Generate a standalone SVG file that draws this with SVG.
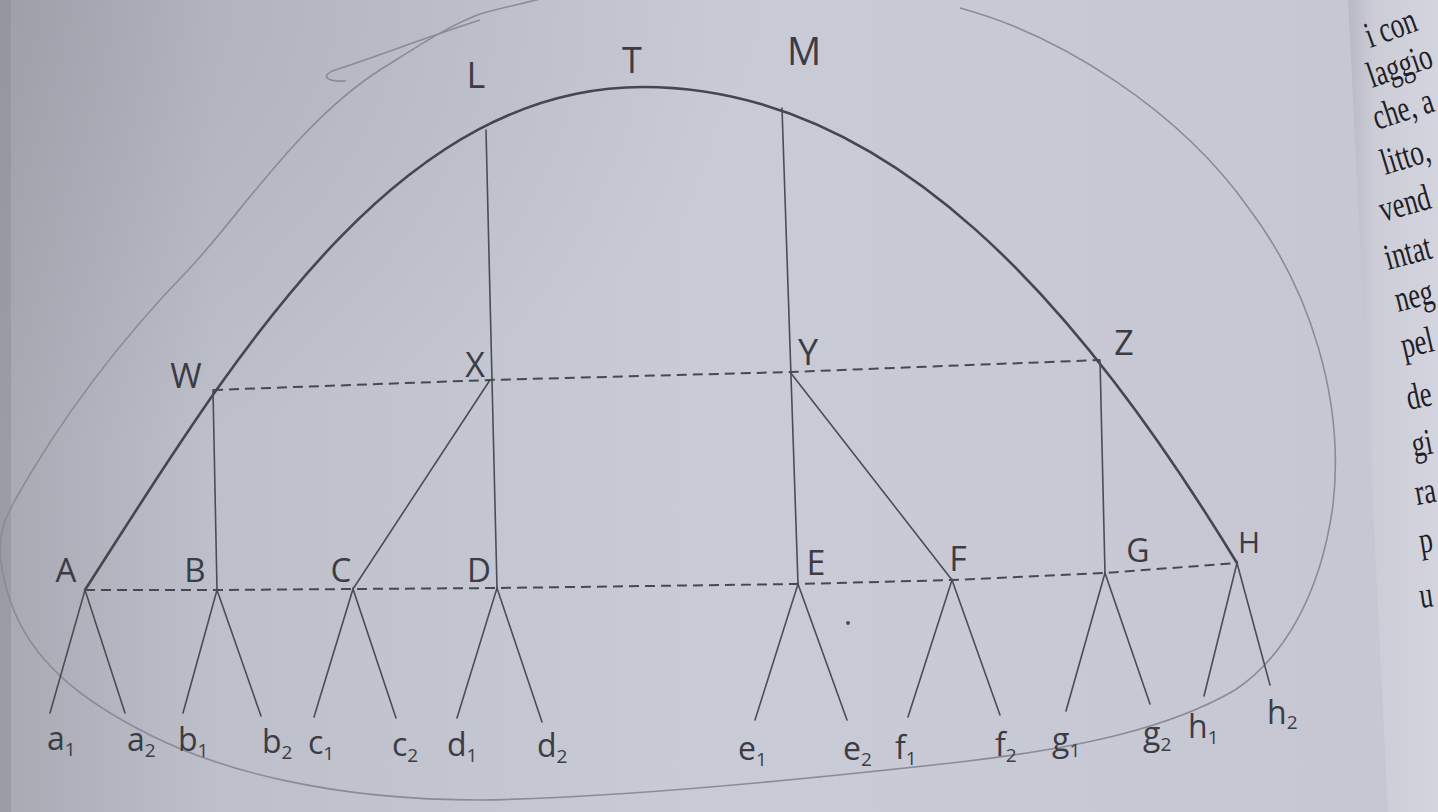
<svg xmlns="http://www.w3.org/2000/svg" width="1438" height="812" viewBox="0 0 1438 812">
<defs>
<linearGradient id="bg" x1="0" y1="0" x2="1" y2="0">
<stop offset="0" stop-color="#a8a9b3"/>
<stop offset="0.15" stop-color="#bdbfca"/>
<stop offset="0.5" stop-color="#c9cbd7"/>
<stop offset="0.93" stop-color="#c6c7d3"/>
<stop offset="1" stop-color="#c6c7d3"/>
</linearGradient>
<radialGradient id="shade" cx="0" cy="0" r="0.55">
<stop offset="0" stop-color="#7d7e88" stop-opacity="0.25"/>
<stop offset="1" stop-color="#7d7e88" stop-opacity="0"/>
</radialGradient>
<linearGradient id="gut" x1="0" y1="0" x2="1" y2="0">
<stop offset="0" stop-color="#b9b9c6"/>
<stop offset="0.3" stop-color="#cdcdd8"/>
<stop offset="1" stop-color="#d4d4de"/>
</linearGradient>
<style>
.curve{fill:none;stroke:#46464e;stroke-width:2.6;stroke-linecap:round}
.ln{fill:none;stroke:#4c4c54;stroke-width:1.6;stroke-linecap:round}
.dash{fill:none;stroke:#48484f;stroke-width:2;stroke-dasharray:10 6}
.outer{fill:none;stroke:#8a8b95;stroke-width:1.6}
.lab{font-family:"Open Sans","Liberation Sans",sans-serif;fill:#3c3c44;text-anchor:middle}
.leaf{font-family:"Open Sans","Liberation Sans",sans-serif;fill:#3c3c44;font-size:32px}
.sub{font-size:19px}
.pg{font-family:"Liberation Serif",serif;fill:#1f1f26;font-size:37px}
</style>
</defs>
<rect x="0" y="0" width="1438" height="812" fill="url(#bg)"/>
<rect x="0" y="0" width="1438" height="812" fill="url(#shade)"/>
<rect x="0" y="0" width="11" height="812" fill="#8d8e98" opacity="0.5"/>
<path d="M1348,0 Q1368,400 1388,812 L1438,812 L1438,0 Z" fill="url(#gut)"/>

<g id="outline">
<path class="outer" d="M960,8 C1060,35 1180,110 1250,210 C1310,290 1345,400 1333,505 C1320,600 1280,660 1235,690 C1170,728 1080,748 960,762 C800,780 620,798 480,800 C330,800 220,770 150,735 C80,700 30,660 10,600 C-10,540 5,520 15,500 C60,420 120,340 190,268 C240,215 300,120 383,68 C420,45 450,25 480,14 C500,8 530,2 560,-6"/>
<path class="outer" d="M480,20 C430,36 372,58 335,70 C321,75 324,82 346,81"/>
<circle cx="848" cy="623" r="2" fill="#4c4c54"/>
</g>

<g id="connectors">
<path id="tree-curve" class="curve" d="M85,590 C231,363 393,87 643,87 C893,87 1081,308 1237,563"/>
<path class="dash" d="M213,390 L490,380 L790,372 L1100,360"/>
<path class="dash" d="M85,590 L217,590 L353,589 L497,588 L798,584 L952,580 L1105,573 L1237,563"/>
<line class="ln" x1="486" y1="130" x2="497" y2="588"/>
<line class="ln" x1="782" y1="108" x2="798" y2="584"/>
<line class="ln" x1="213" y1="390" x2="217" y2="590"/>
<line class="ln" x1="1100" y1="360" x2="1105" y2="573"/>
<line class="ln" x1="490" y1="380" x2="353" y2="589"/>
<line class="ln" x1="790" y1="372" x2="952" y2="580"/>
<path class="ln" d="M50,713 L85,590 L125,713"/>
<path class="ln" d="M183,713 L217,590 L261,716"/>
<path class="ln" d="M314,717 L353,589 L396,718"/>
<path class="ln" d="M457,718 L497,588 L542,722"/>
<path class="ln" d="M755,720 L798,584 L847,720"/>
<path class="ln" d="M908,717 L952,580 L1000,715"/>
<path class="ln" d="M1066,711 L1105,573 L1150,704"/>
<path class="ln" d="M1204,696 L1237,563 L1270,685"/>
</g>

<g id="node-L"><text class="lab" x="476" y="88" font-size="36">L</text></g>
<g id="node-T"><text class="lab" x="632" y="73" font-size="36">T</text></g>
<g id="node-M"><text class="lab" x="804" y="65" font-size="38">M</text></g>
<g id="node-W"><text class="lab" x="186" y="388" font-size="34">W</text></g>
<g id="node-X"><text class="lab" x="475" y="377" font-size="34">X</text></g>
<g id="node-Y"><text class="lab" x="808" y="365" font-size="36">Y</text></g>
<g id="node-Z"><text class="lab" x="1124" y="355" font-size="34">Z</text></g>
<g id="node-A"><text class="lab" x="66" y="582" font-size="33">A</text></g>
<g id="node-B"><text class="lab" x="195" y="582" font-size="33">B</text></g>
<g id="node-C"><text class="lab" x="341" y="582" font-size="33">C</text></g>
<g id="node-D"><text class="lab" x="479" y="582" font-size="33">D</text></g>
<g id="node-E"><text class="lab" x="816" y="575" font-size="34">E</text></g>
<g id="node-F"><text class="lab" x="958" y="571" font-size="34">F</text></g>
<g id="node-G"><text class="lab" x="1138" y="562" font-size="32">G</text></g>
<g id="node-H"><text class="lab" x="1249" y="553" font-size="30">H</text></g>

<g id="leaf-a1"><text class="leaf" x="47" y="750">a<tspan class="sub" dy="6">1</tspan></text></g>
<g id="leaf-a2"><text class="leaf" x="127" y="751">a<tspan class="sub" dy="6">2</tspan></text></g>
<g id="leaf-b1"><text class="leaf" x="178" y="751">b<tspan class="sub" dy="6">1</tspan></text></g>
<g id="leaf-b2"><text class="leaf" x="262" y="753">b<tspan class="sub" dy="6">2</tspan></text></g>
<g id="leaf-c1"><text class="leaf" x="308" y="754">c<tspan class="sub" dy="6">1</tspan></text></g>
<g id="leaf-c2"><text class="leaf" x="392" y="756">c<tspan class="sub" dy="6">2</tspan></text></g>
<g id="leaf-d1"><text class="leaf" x="447" y="756">d<tspan class="sub" dy="6">1</tspan></text></g>
<g id="leaf-d2"><text class="leaf" x="537" y="757">d<tspan class="sub" dy="6">2</tspan></text></g>
<g id="leaf-e1"><text class="leaf" x="738" y="760">e<tspan class="sub" dy="6">1</tspan></text></g>
<g id="leaf-e2"><text class="leaf" x="843" y="760">e<tspan class="sub" dy="6">2</tspan></text></g>
<g id="leaf-f1"><text class="leaf" x="895" y="759">f<tspan class="sub" dy="6">1</tspan></text></g>
<g id="leaf-f2"><text class="leaf" x="995" y="756">f<tspan class="sub" dy="6">2</tspan></text></g>
<g id="leaf-g1"><text class="leaf" x="1052" y="751">g<tspan class="sub" dy="6">1</tspan></text></g>
<g id="leaf-g2"><text class="leaf" x="1143" y="745">g<tspan class="sub" dy="6">2</tspan></text></g>
<g id="leaf-h1"><text class="leaf" x="1188" y="738">h<tspan class="sub" dy="6">1</tspan></text></g>
<g id="leaf-h2"><text class="leaf" x="1267" y="724" font-size="26">h<tspan class="sub" dy="5" font-size="16">2</tspan></text></g>

<g id="page-text">
<text class="pg" transform="translate(1370 48) rotate(-20) scale(0.72 1)">i con</text>
<text class="pg" transform="translate(1372 88) rotate(-19) scale(0.72 1)">laggio</text>
<text class="pg" transform="translate(1377 130) rotate(-18) scale(0.72 1)">che, a</text>
<text class="pg" transform="translate(1385 175) rotate(-17) scale(0.72 1)">litto,</text>
<text class="pg" transform="translate(1383 222) rotate(-16) scale(0.72 1)">vend</text>
<text class="pg" transform="translate(1388 270) rotate(-15) scale(0.72 1)">intat</text>
<text class="pg" transform="translate(1398 312) rotate(-14) scale(0.72 1)">neg</text>
<text class="pg" transform="translate(1404 358) rotate(-13) scale(0.72 1)">pel</text>
<text class="pg" transform="translate(1409 410) rotate(-12) scale(0.72 1)">de</text>
<text class="pg" transform="translate(1414 457) rotate(-11) scale(0.72 1)">gi</text>
<text class="pg" transform="translate(1417 505) rotate(-10) scale(0.72 1)">ra</text>
<text class="pg" transform="translate(1421 553) rotate(-9) scale(0.72 1)">p</text>
<text class="pg" transform="translate(1421 608) rotate(-8) scale(0.72 1)">u</text>
</g>
</svg>
